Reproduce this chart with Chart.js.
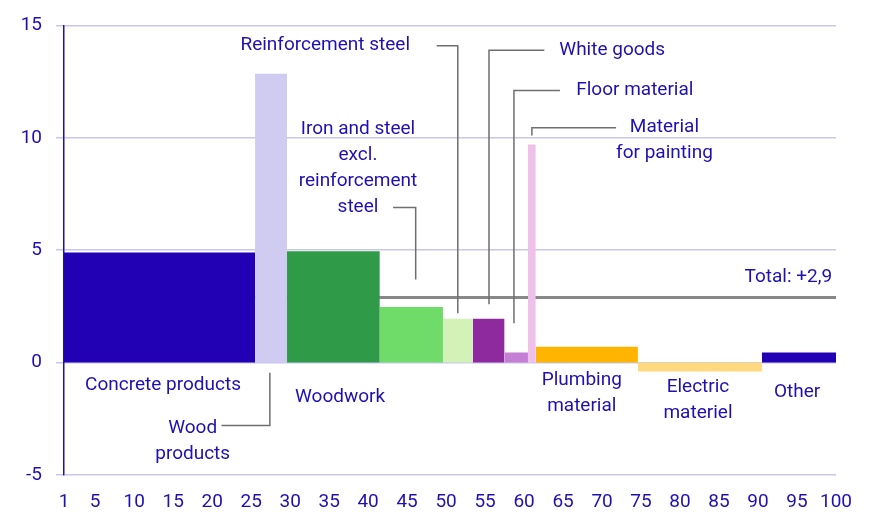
<!DOCTYPE html>
<html>
<head>
<meta charset="utf-8">
<script src="https://cdn.jsdelivr.net/npm/chart.js@4"></script>
<style>
  body { margin: 0; background: #fff; }
  #wrap { width: 875px; height: 529px; }
</style>
</head>
<body>
<div id="wrap"><canvas id="myChart"></canvas></div>
<script>
// groups: start/end on the 1-100 axis (weight share), value = change in %
let groups = ["Concrete products", "Wood products", "Woodwork", "Iron and steel excl. reinforcement steel",
  "Reinforcement steel", "White goods", "Floor material", "Material for painting",
  "Plumbing material", "Electric materiel", "Other"];
let starts = [1, 25.5, 29.6, 41.5, 49.6, 53.4, 57.5, 60.5, 61.5, 74.6, 90.5];
let ends = [25.5, 29.6, 41.5, 49.6, 53.4, 57.5, 60.5, 61.5, 74.6, 90.5, 100];
let values = [4.9, 12.85, 4.95, 2.47, 1.95, 1.95, 0.45, 9.7, 0.7, -0.4, 0.45];
let colors = ["#2200b4", "#d0cbf0", "#2f9a47", "#6fdc6a", "#d2f2b8", "#8f2a9e",
  "#c47fd4", "#efc0e8", "#ffb400", "#ffd97f", "#2200b4"];
let total = 2.9;
let xTicks = [1, 5, 10, 15, 20, 25, 30, 35, 40, 45, 50, 55, 60, 65, 70, 75, 80, 85, 90, 95, 100];
let yTicks = [-5, 0, 5, 10, 15];

const blue = "#1f10b4";
const grey = "#6f6f6f";

// text labels: [lines, x, y, align]
let labels = [
  [["Concrete products"], 13.7, -1.0, "center"],
  [["Wood", "products"], 17.5, -2.9, "center"],
  [["Woodwork"], 36.4, -1.55, "center"],
  [["Iron and steel", "excl.", "reinforcement", "steel"], 38.7, 10.4, "center"],
  [["Reinforcement steel"], 34.5, 14.1, "center"],
  [["White goods"], 71.3, 13.9, "center"],
  [["Floor material"], 74.2, 12.1, "center"],
  [["Material", "for painting"], 78, 10.45, "center"],
  [["Plumbing", "material"], 67.4, -0.8, "center"],
  [["Electric", "materiel"], 82.3, -1.1, "center"],
  [["Other"], 95, -1.3, "center"],
  [["Total: +2,9"], 99.5, 3.8, "right"]
];
// leader lines as point lists in data coords
let leaders = [
  [[27.4, -0.45], [27.4, -2.8], [21.2, -2.8]],
  [[43.2, 6.9], [46.1, 6.9], [46.1, 3.7]],
  [[48.8, 14.1], [51.5, 14.1], [51.5, 2.2]],
  [[62.6, 13.9], [55.5, 13.9], [55.5, 2.6]],
  [[64.6, 12.1], [58.7, 12.1], [58.7, 1.75]],
  [[71.8, 10.45], [61.0, 10.45], [61.0, 10.1]]
];

let datasets = groups.map((g, i) => ({
  label: g,
  data: [{x: starts[i], y: 0}, {x: starts[i], y: values[i]}, {x: ends[i], y: values[i]}, {x: ends[i], y: 0}],
  showLine: true,
  fill: "origin",
  backgroundColor: colors[i],
  borderWidth: 0,
  pointRadius: 0,
  tension: 0
}));
datasets.push({
  label: "Total",
  data: [{x: 1, y: total}, {x: 100, y: total}],
  showLine: true,
  borderColor: "#888888",
  borderWidth: 3,
  pointRadius: 0,
  fill: false
});

const annotate = {
  id: "annotate",
  afterDatasetsDraw(chart) {
    const c = chart.ctx, xs = chart.scales.x, ys = chart.scales.y;
    c.save();
    c.strokeStyle = grey;
    c.lineWidth = 1.5;
    leaders.forEach((pts) => {
      c.beginPath();
      pts.forEach((p, k) => {
        const px = xs.getPixelForValue(p[0]), py = ys.getPixelForValue(p[1]);
        k ? c.lineTo(px, py) : c.moveTo(px, py);
      });
      c.stroke();
    });
    c.fillStyle = blue;
    c.font = "19px Roboto";
    c.textBaseline = "middle";
    labels.forEach((l) => {
      c.textAlign = l[3];
      const px = xs.getPixelForValue(l[1]);
      let py = ys.getPixelForValue(l[2]);
      l[0].forEach((t) => { c.fillText(t, px, py); py += 26; });
    });
    c.restore();
  }
};

new Chart(document.getElementById("myChart").getContext("2d"), {
  type: "scatter",
  data: { datasets: datasets },
  options: {
    responsive: true,
    maintainAspectRatio: false,
    animation: false,
    layout: { padding: { top: 14, right: 39, left: 0, bottom: 0 } },
    plugins: { legend: { display: false }, tooltip: { enabled: false } },
    scales: {
      x: {
        type: "linear", min: 1, max: 100,
        afterBuildTicks: (s) => { s.ticks = xTicks.map((v) => ({ value: v })); },
        afterFit: (s) => { s.height = 54; },
        grid: { display: false, drawTicks: true },
        border: { display: false },
        ticks: { color: blue, font: { family: "Roboto", size: 19 }, maxRotation: 0, autoSkip: false, padding: 8 }
      },
      y: {
        min: -5, max: 15,
        afterBuildTicks: (s) => { s.ticks = yTicks.map((v) => ({ value: v })); },
        afterFit: (s) => { s.width = 64; },
        grid: { color: "#c9c6ee", lineWidth: 1.5, tickLength: 8 },
        border: { display: true, color: blue, width: 1.5 },
        ticks: { color: blue, font: { family: "Roboto", size: 19 }, padding: 14 }
      }
    }
  },
  plugins: [annotate]
});
</script>
</body>
</html>
